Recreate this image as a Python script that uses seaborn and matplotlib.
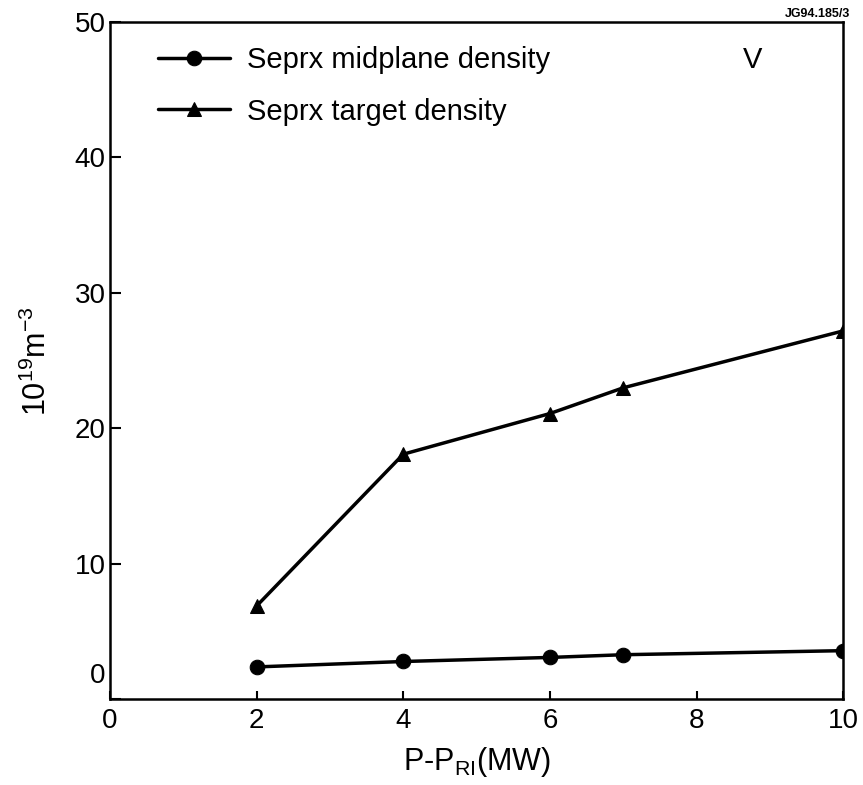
import matplotlib
matplotlib.use("Agg")
import matplotlib.pyplot as plt
import matplotlib.transforms as mtransforms
import seaborn as sns
import pandas as pd

power = [2, 4, 6, 7, 10]
midplane_density = [2.4, 2.8, 3.1, 3.3, 3.6]
target_density = [6.9, 18.1, 21.1, 23.0, 27.2]
series_names = ["Seprx midplane density", "Seprx target density"]
x_ticks = [0, 2, 4, 6, 8, 10]
y_ticks = [0, 10, 20, 30, 40, 50]

df = pd.DataFrame({
    "x": power * 2,
    "y": midplane_density + target_density,
    "series": [series_names[0]] * len(power) + [series_names[1]] * len(power),
})

sns.set_style("ticks")
plt.rcParams["font.family"] = ["Liberation Sans", "DejaVu Sans"]
plt.rcParams["mathtext.fontset"] = "custom"
plt.rcParams["mathtext.rm"] = "Liberation Sans"
plt.rcParams["mathtext.it"] = "Liberation Sans"
plt.rcParams["text.color"] = "black"
plt.rcParams["axes.labelcolor"] = "black"
plt.rcParams["xtick.color"] = "black"
plt.rcParams["ytick.color"] = "black"

fig = plt.figure(figsize=(8.63, 7.85), dpi=100)
ax = fig.add_axes([0.1275, 0.109, 0.8495, 0.863])

sns.lineplot(data=df, x="x", y="y", hue="series", style="series",
             palette=["black", "black"], markers={series_names[0]: "o", series_names[1]: "^"},
             dashes=False, linewidth=2.5, markersize=10.5, markeredgecolor="black",
             ax=ax, legend=True)

ax.set_xlim(0, 10)
ax.set_ylim(0, 50)
ax.set_xticks(x_ticks)
ax.set_yticks(y_ticks)
for s in ax.spines.values():
    s.set_linewidth(1.8)
    s.set_color("black")
ax.tick_params(axis="both", direction="in", labelsize=20, width=1.5, colors="black")
ax.tick_params(axis="x", length=6, pad=6)
ax.tick_params(axis="y", length=8, pad=3)

ax.set_xlabel(r"P-P$_{\mathregular{RI}}$(MW)", fontsize=22, labelpad=8)
ax.set_ylabel(r"10$^{\mathregular{19}}$m$^{\mathregular{-3}}$", fontsize=22, labelpad=16)

lbl0 = ax.get_yticklabels()[0]
lbl0.set_transform(lbl0.get_transform() + mtransforms.ScaledTranslation(0, 0.26, fig.dpi_scale_trans))

leg = ax.legend(loc="upper left", bbox_to_anchor=(0.029, 1.003), frameon=False,
                fontsize=21, handlelength=2.5, labelspacing=0.8, handletextpad=0.55,
                markerscale=1.0)
for h in leg.legend_handles:
    h.set_linewidth(2.5)

ax.text(0.877, 0.944, "V", transform=ax.transAxes, fontsize=21, ha="center", va="center")
fig.text(0.985, 0.99, "JG94.185/3", fontsize=9, fontweight="bold", ha="right", va="top")

fig.savefig("out.png", dpi=100)
